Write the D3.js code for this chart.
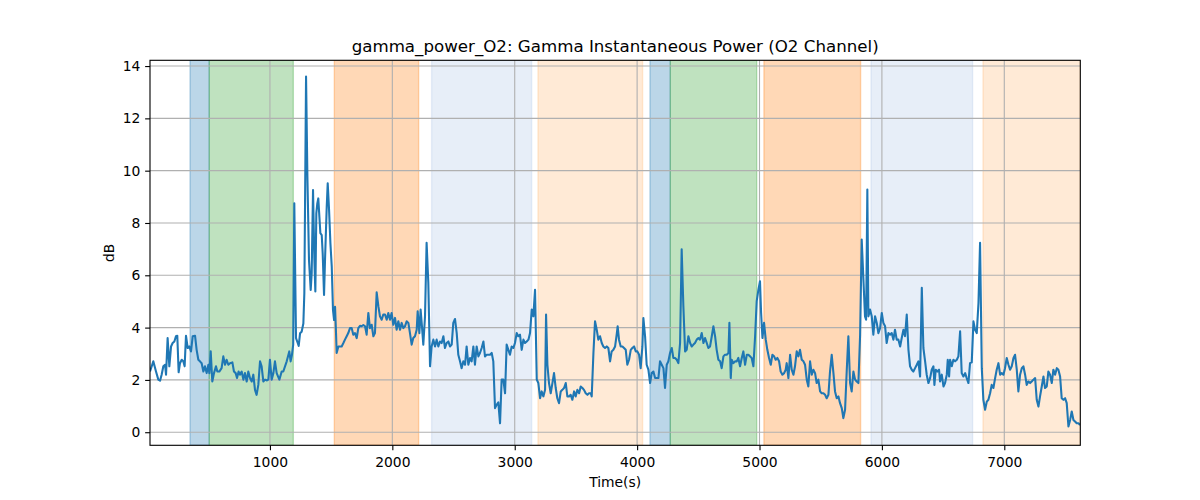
<!DOCTYPE html>
<html>
<head>
<meta charset="utf-8">
<script src="https://cdn.jsdelivr.net/npm/d3@7"></script>
<style>
  html, body { margin: 0; padding: 0; background: #ffffff; }
  svg { display: block; font-family: "DejaVu Sans", sans-serif; }
</style>
</head>
<body>
<svg id="chart" width="1200" height="500"></svg>
<script>
(function () {
// ---------------- data ----------------
const chartTitle = "gamma_power_O2: Gamma Instantaneous Power (O2 Channel)";
const xLabel = "Time(s)";
const yLabel = "dB";

const xTicks = [1000, 2000, 3000, 4000, 5000, 6000, 7000];
const yTicks = [0, 2, 4, 6, 8, 10, 12, 14];
const xDomain = [20, 7621];
const yDomain = [-0.5, 14.22];

// shaded intervals (start, end, kind)
const spanStart = [347, 504, 1526, 2321, 3190, 4105, 4271, 5036, 5911, 6826];
const spanEnd   = [504, 1191, 2215, 3138, 4045, 4271, 4977, 5826, 6741, 7621];
const spanKind  = ["a", "b", "c", "d", "e", "a", "b", "c", "d", "e"];

// time (s)
const time = [
  20,47,69,88,102,115,129,143,151,164,178,192,205,219,232,243,254,265,279,292,303,314,328,341,355,369,388,401,415,428,442,456,469,483,497,505,516,529,543,559,570,586,605,619,633,646,660,674,693,706,720,731,744,755,769,783,796,810,823,837,851,864,878,891,905,919,932,946,960,973,987,1000,1014,1028,1041,1055,1077,1096,1109,1137,1158,1169,1180,1190,
  1199,1213,1227,1235,1246,1259,1273,1281,1295,1306,1319,1333,1341,1352,1363,1371,1379,1387,1395,1404,1412,1423,1431,1442,1450,1464,1472,1483,1494,1505,1515,1524,1532,1540,
  1545,1559,1572,1586,1600,1613,1627,1640,1654,1668,1681,1695,1709,1722,1736,1749,1763,1777,1790,1804,1817,1831,1845,1858,1872,1886,1899,1913,1926,1940,1954,1967,1981,1994,2008,2022,2035,2049,2063,2076,2090,2103,2117,2131,2144,2158,2171,2185,2199,2207,2221,2231,2242,2253,2267,2280,2294,2308,2321,2335,2349,2362,2376,2389,2403,2417,2430,2444,2458,2471,2485,2498,2512,2526,2539,2553,2566,2580,2594,2607,2621,2635,2648,2662,2675,2689,2703,2716,2730,2744,2757,2771,2784,2798,2812,2825,2839,2852,2866,2880,2893,2907,2921,2934,2948,2961,2975,2989,3002,3016,3029,
  3043,3057,3071,3084,3098,3112,3125,3139,3152,3166,3180,3193,3207,3220,3234,3248,3256,3267,3280,3294,3308,3321,3335,3348,3362,3376,3389,3403,3417,3430,3444,3457,3471,3485,3498,3512,3526,3539,3553,3566,3580,3594,3607,3621,3629,3643,3656,3670,3683,3697,3711,3724,3738,3752,3765,3779,3792,3806,3820,3833,3841,3852,3866,3880,3893,3907,3920,3934,3948,3961,3975,3989,4002,4016,4029,4043,4051,4065,4078,4092,4106,4119,4133,4147,4160,4174,4187,4201,4215,4228,4242,4255,4269,4283,4296,4310,4324,4337,4351,4364,4378,4392,4405,4419,4433,4446,4460,4473,4487,4501,4514,4528,4542,4555,4569,4582,
  4596,4610,4623,4637,4650,4664,4678,4691,4705,4718,4732,4746,4754,4765,4773,4787,4800,4814,4827,4841,4855,4868,4882,4896,4909,4923,4936,4950,4964,4977,4991,5004,5013,5024,5037,5051,5064,5078,5092,5105,5119,5132,5146,5160,5173,5187,5201,5214,5222,5236,5250,5263,5277,5290,5304,5318,5331,5345,5359,5372,5386,5399,5413,5427,5440,5454,5467,5481,5495,5508,5522,5536,5549,5563,5576,5590,5604,5617,5631,5645,5658,5672,5685,5699,5713,5726,5740,5753,5767,5781,5794,5808,5822,5835,5849,5862,5871,5881,5890,5903,5917,5930,5944,5958,5971,5985,5999,6012,6026,6039,6053,6067,6080,6094,6107,6121,6135,
  6149,6162,6176,6189,6203,6217,6230,6244,6257,6271,6285,6298,6312,6326,6339,6353,6366,6380,6394,6407,6421,6429,6440,6454,6467,6475,6489,6503,6516,6530,6538,6549,6557,6571,6584,6598,6612,6625,6639,6652,6666,6680,6693,6707,6720,6734,6748,6761,6775,6789,6802,6816,6829,6843,6857,6870,6884,6897,6911,6925,6938,6952,6966,6979,6993,7006,7020,7034,7047,7061,7075,7088,7102,7115,7129,7143,7156,7170,7183,7197,7211,7224,7238,7252,7265,7279,7292,7306,7320,7333,7347,7360,7374,7388,7401,7415,7429,7442,7456,7469,7483,7497,7510,7524,7538,7551,7565,7578,7592,7606,7619
];

// gamma power (dB)
const power = [
  2.32,2.71,2.32,2.01,1.97,2.20,2.52,2.58,2.20,3.60,2.52,3.28,3.41,3.47,3.67,3.69,2.29,2.64,2.77,2.71,2.52,3.69,3.22,3.28,3.09,3.67,3.69,3.15,2.77,2.71,2.64,2.32,2.52,2.26,2.58,2.26,3.09,1.94,2.26,2.52,2.32,2.32,2.45,2.90,2.58,2.77,2.58,2.64,2.67,2.32,2.26,2.07,2.32,2.20,2.32,2.01,2.26,1.94,2.32,2.07,1.94,2.20,1.62,1.43,1.81,2.71,2.52,1.94,2.01,1.98,2.01,2.77,2.01,2.26,2.71,2.26,2.01,2.32,2.32,2.71,3.09,2.71,2.96,3.35,
  8.75,3.60,3.41,3.30,3.78,3.84,4.16,5.31,13.60,9.77,6.59,5.44,6.08,9.26,6.59,5.38,8.37,8.75,8.94,8.24,7.61,7.54,6.84,5.25,6.59,8.63,9.52,8.50,7.23,6.33,4.68,4.29,4.80,3.78,
  3.03,3.28,3.28,3.28,3.41,3.54,3.67,3.79,3.98,3.98,3.73,3.79,3.60,3.98,4.07,4.05,4.10,4.05,3.73,4.56,3.98,4.11,3.67,3.79,5.35,4.81,4.43,4.30,4.50,4.50,4.30,4.56,4.30,4.56,4.11,4.37,3.92,4.24,3.92,4.18,3.98,4.05,4.24,4.18,3.79,3.35,3.60,3.67,3.92,4.62,3.79,4.69,4.05,3.35,4.43,7.24,5.71,2.52,3.28,3.54,3.28,3.54,3.28,3.47,3.41,3.67,3.22,3.41,3.47,3.28,3.35,4.18,4.33,3.79,2.96,2.71,2.45,2.71,2.58,3.28,2.58,2.84,2.71,3.28,2.58,3.28,2.90,3.03,3.22,3.47,2.90,2.96,2.96,2.96,3.03,2.71,0.92,1.05,1.14,0.34,2.01,2.01,1.49,3.35,3.15,2.96,3.28,3.22,3.41,3.79,3.67,
  3.73,3.15,3.54,3.41,3.47,3.54,3.79,4.69,4.43,5.45,2.01,1.88,1.30,1.56,1.37,1.62,4.50,2.58,1.88,1.49,1.88,2.26,1.69,1.30,1.11,1.56,1.62,1.69,1.88,1.37,1.37,1.43,1.24,1.56,1.37,1.62,1.49,1.75,1.69,1.62,1.49,1.43,1.49,1.49,1.37,3.03,4.24,3.92,3.54,3.67,3.41,3.28,3.22,3.28,3.22,2.71,3.09,3.15,3.28,3.73,4.05,3.54,3.28,3.28,3.22,3.15,2.58,2.77,3.15,3.22,3.28,3.09,3.09,2.96,2.45,3.28,4.37,3.67,2.58,2.39,1.88,2.26,2.32,2.07,2.07,2.07,2.71,2.58,2.45,1.69,2.58,2.71,3.03,3.22,2.84,2.84,2.77,2.64,3.41,6.99,4.81,3.09,3.15,3.67,3.41,3.28,3.35,3.41,3.54,3.60,3.54,3.79,3.41,3.60,3.41,3.22,
  3.28,3.67,4.05,3.67,3.15,2.77,2.71,2.45,2.90,2.96,2.96,3.03,4.18,2.07,2.77,2.64,2.71,2.71,2.84,2.52,2.84,3.09,2.58,2.96,2.96,2.90,2.84,2.52,3.67,5.01,5.45,5.77,4.56,3.60,4.18,3.54,3.15,2.84,2.58,2.96,2.90,2.77,2.84,2.71,2.32,2.20,2.26,2.39,2.64,2.07,2.96,2.39,2.20,2.52,3.09,2.90,3.15,2.77,2.71,2.58,2.01,1.75,2.71,2.20,2.39,2.26,1.88,2.01,1.56,1.49,1.49,1.43,1.30,1.43,2.32,2.96,2.26,1.56,1.30,1.37,1.11,0.92,0.54,0.86,2.39,3.67,1.88,1.56,2.32,2.01,1.94,1.88,3.73,7.37,5.84,4.43,4.30,9.28,4.43,4.69,4.43,3.73,4.43,4.18,3.79,3.98,4.56,4.18,4.05,3.41,3.79,3.73,3.79,3.54,3.92,3.54,3.54,
  3.28,3.60,3.92,3.67,4.50,3.15,2.52,2.39,2.32,2.45,2.58,2.71,2.13,5.52,3.22,2.71,2.20,1.88,2.07,2.39,2.52,1.81,2.39,2.32,2.39,1.94,2.20,1.75,1.88,2.20,2.77,2.13,2.77,2.52,2.77,2.71,2.77,2.90,3.86,2.26,2.13,2.26,2.07,1.88,2.64,2.67,4.24,3.92,3.79,4.94,7.24,2.45,1.24,0.86,1.17,1.24,1.49,1.81,1.69,2.07,2.39,2.64,2.20,2.26,2.20,2.45,2.84,2.58,2.39,2.52,2.84,2.96,2.39,1.56,2.20,2.45,2.52,2.20,1.81,1.94,1.88,1.94,2.01,2.07,1.24,0.98,1.37,1.75,2.13,1.69,1.75,2.32,2.20,1.88,2.39,2.20,2.45,2.39,2.13,1.30,1.24,1.30,1.11,0.22,0.47,0.79,0.47,0.41,0.34,0.34,0.28
];

// ---------------- styles ----------------
const spanColors = { a: "#1f77b4", b: "#2ca02c", c: "#ff7f0e", d: "#aec7e8", e: "#ffbb78" };
const lineColor = "#1f77b4";
const PT = 100 / 72; // px per point at 100 dpi

// ---------------- layout ----------------
const pL = 150, pR = 1080.3, pT = 60.3, pB = 445.3;
const svg = d3.select("#chart");

const x = d3.scaleLinear().domain(xDomain).range([pL, pR]);
const y = d3.scaleLinear().domain(yDomain).range([pB, pT]);

svg.append("defs").append("clipPath").attr("id", "plotclip")
  .append("rect").attr("x", pL).attr("y", pT)
  .attr("width", pR - pL).attr("height", pB - pT);

// spans
const spans = spanStart.map((s, i) => ({ s, e: spanEnd[i], k: spanKind[i] }));
svg.append("g").attr("clip-path", "url(#plotclip)")
  .selectAll("rect").data(spans).enter().append("rect")
  .attr("x", d => x(d.s))
  .attr("y", pT)
  .attr("width", d => x(d.e) - x(d.s))
  .attr("height", pB - pT)
  .attr("fill", d => spanColors[d.k])
  .attr("fill-opacity", 0.3)
  .attr("stroke", d => spanColors[d.k])
  .attr("stroke-opacity", 0.3)
  .attr("stroke-width", PT);

// grid
const grid = svg.append("g").attr("clip-path", "url(#plotclip)");
grid.selectAll("line.gx").data(xTicks).enter().append("line")
  .attr("x1", d => x(d)).attr("x2", d => x(d))
  .attr("y1", pT).attr("y2", pB)
  .attr("stroke", "#b0b0b0").attr("stroke-width", 0.8 * PT);
grid.selectAll("line.gy").data(yTicks).enter().append("line")
  .attr("y1", d => y(d)).attr("y2", d => y(d))
  .attr("x1", pL).attr("x2", pR)
  .attr("stroke", "#b0b0b0").attr("stroke-width", 0.8 * PT);

// line
const pts = time.map((t, i) => [t, power[i]]);
svg.append("g").attr("clip-path", "url(#plotclip)")
  .append("path")
  .datum(pts)
  .attr("fill", "none")
  .attr("stroke", lineColor)
  .attr("stroke-width", 1.5 * PT)
  .attr("stroke-linejoin", "round")
  .attr("d", d3.line().x(d => x(d[0])).y(d => y(d[1])));

// axes
const fontSize = (10 * PT) + "px";
const xAxis = svg.append("g").attr("transform", `translate(0,${pB})`)
  .call(d3.axisBottom(x).tickValues(xTicks).tickFormat(d3.format("d"))
    .tickSize(3.5 * PT).tickPadding(7.3).tickSizeOuter(0));
const yAxis = svg.append("g").attr("transform", `translate(${pL},0)`)
  .call(d3.axisLeft(y).tickValues(yTicks).tickFormat(d3.format("d"))
    .tickSize(3.5 * PT).tickPadding(3.5 * PT).tickSizeOuter(0));
[xAxis, yAxis].forEach(g => {
  g.select(".domain").remove();
  g.selectAll(".tick line").attr("stroke", "#000").attr("stroke-width", 0.8 * PT);
  g.selectAll(".tick text").attr("fill", "#000")
    .style("font-family", "DejaVu Sans").style("font-size", fontSize);
});

// spines
svg.append("rect").attr("x", pL).attr("y", pT)
  .attr("width", pR - pL).attr("height", pB - pT)
  .attr("fill", "none").attr("stroke", "#000").attr("stroke-width", 0.8 * PT);

// title and labels
svg.append("text").attr("x", (pL + pR) / 2).attr("y", 52)
  .attr("text-anchor", "middle").style("font-size", (12 * PT) + "px").attr("fill", "#000")
  .text(chartTitle);
svg.append("text").attr("x", (pL + pR) / 2).attr("y", 486.5)
  .attr("text-anchor", "middle").style("font-size", fontSize).attr("fill", "#000")
  .text(xLabel);
svg.append("text")
  .attr("transform", `translate(114,${(pT + pB) / 2}) rotate(-90)`)
  .attr("text-anchor", "middle").style("font-size", fontSize).attr("fill", "#000")
  .text(yLabel);
})();
</script>
</body>
</html>
